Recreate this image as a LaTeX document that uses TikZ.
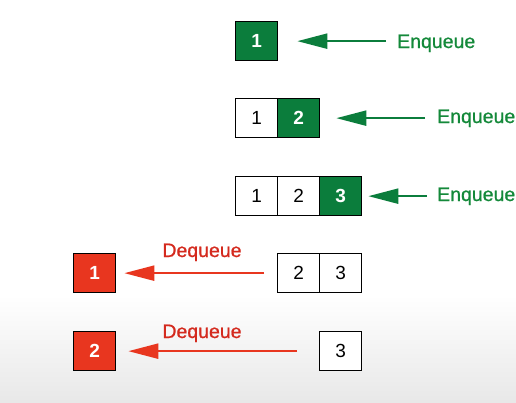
\documentclass[tikz,border=0pt]{standalone}
\usepackage{fontspec}
\setmainfont{Liberation Sans}
\newfontfamily\lblfont[FakeBold=0.9]{Liberation Sans}
\usetikzlibrary{arrows.meta}
\definecolor{qgreen}{HTML}{0B7D3C}
\definecolor{qgtext}{HTML}{14893A}
\definecolor{qred}{HTML}{E8361F}
\definecolor{qrtext}{HTML}{D42A1E}
\tikzset{
  cell/.style={draw=black, line width=1.3pt, minimum width=42pt, minimum height=39pt, inner sep=0pt, anchor=north west, font=\fontsize{19}{19}\selectfont},
  gcell/.style={cell, fill=qgreen, text=white, font=\fontsize{19}{19}\selectfont\bfseries},
  rcell/.style={cell, fill=qred, text=white, font=\fontsize{19}{19}\selectfont\bfseries},
  wcell/.style={cell, fill=white, text=black},
  enq/.style={text=qgtext, font=\fontsize{19.5}{19.5}\lblfont, inner sep=0pt, anchor=base west},
  deq/.style={text=qrtext, font=\fontsize{19.5}{19.5}\lblfont, inner sep=0pt, anchor=base},
  garr/.style={draw=qgreen, line width=2.2pt, -{Triangle[length=30pt,width=15pt]}},
  rarr/.style={draw=qred, line width=2.2pt, -{Triangle[length=30pt,width=15pt]}}
}
\begin{document}
\begin{tikzpicture}[x=1pt,y=-1pt]
\useasboundingbox (0,0) rectangle (516,402);
\shade[top color=white, bottom color=black!9] (0,295) rectangle (516,402);
% row 1
\node[gcell] (a1) at (235,21) {1};
\node[enq] (ta) at (397,48) {Enqueue};
\draw[garr, shorten <=11pt, shorten >=19pt] (ta.west |- a1.east) -- (a1.east);
% row 2
\node[wcell] (b1) at (235,98) {1};
\node[gcell] (b2) at (277,98) {2};
\node[enq] (tb) at (437,123) {Enqueue};
\draw[garr, shorten <=12pt, shorten >=16pt] (tb.west |- b2.east) -- (b2.east);
% row 3
\node[wcell] (c1) at (235,176) {1};
\node[wcell] (c2) at (277,176) {2};
\node[gcell] (c3) at (319,176) {3};
\node[enq] (tc) at (437,201) {Enqueue};
\draw[garr, shorten <=10pt, shorten >=6pt] (tc.west |- c3.east) -- (c3.east);
% row 4
\node[rcell] (d0) at (73,253) {1};
\node[wcell] (d2) at (277,253) {2};
\node[wcell] (d3) at (319,253) {3};
\node[deq] (td) at (202,257) {Dequeue};
\draw[rarr, shorten <=13pt, shorten >=8pt] (d2.west) -- (d0.east);
% row 5
\node[rcell] (e0) at (73,331) {2};
\node[wcell] (e3) at (319,331) {3};
\node[deq] (te) at (202,338) {Dequeue};
\draw[rarr, shorten <=22pt, shorten >=12pt] (e3.west) -- (e0.east);
\end{tikzpicture}
\end{document}
